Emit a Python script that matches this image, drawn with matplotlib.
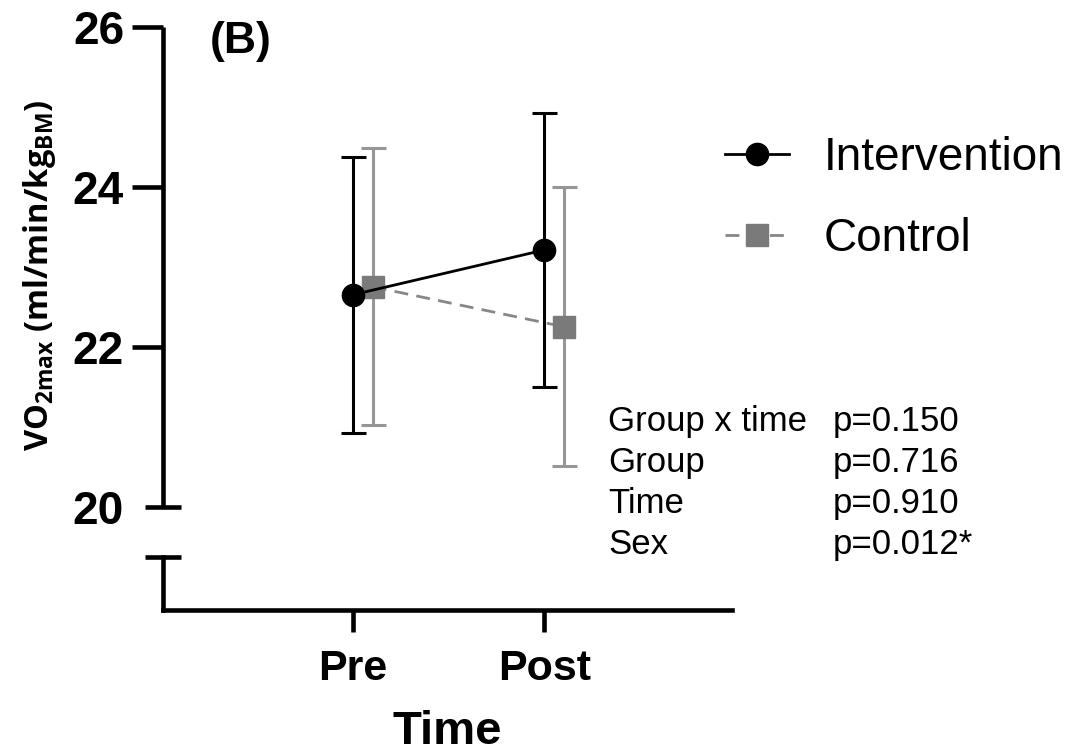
import matplotlib.pyplot as plt
import matplotlib.transforms as mtransforms

plt.rcParams['font.family'] = ['Liberation Sans', 'DejaVu Sans']

# group means and SD at each time point
time_labels = ['Pre', 'Post']
int_mean = [22.65, 23.21]
int_sd = [1.72, 1.71]
ctrl_mean = [22.75, 22.25]
ctrl_sd = [1.73, 1.74]

effects = ['Group x time', 'Group', 'Time', 'Sex']
p_values = ['p=0.150', 'p=0.716', 'p=0.910', 'p=0.012*']

x = [0, 1]
shift = 0.105
x_ctrl = [v + shift for v in x]

W, H = 1073, 754
fig = plt.figure(figsize=(W / 100, H / 100), dpi=100)
ax = fig.add_axes([163 / W, 1 - 610 / H, 569 / W, (610 - 26.5) / H])

ymin, ymax = 18.715, 26.0
brk = 19.377
ax.set_xlim(-0.99, 1.98)
ax.set_ylim(ymin, ymax)

grey = '#878787'
# control first so intervention sits on top
ax.errorbar(x_ctrl, ctrl_mean, yerr=ctrl_sd, fmt='none', ecolor='#969696',
            elinewidth=2.2, capsize=9, capthick=2.2, zorder=2)
ax.plot(x_ctrl, ctrl_mean, color=grey, ls=(0, (5, 3)), lw=2, marker='s',
        ms=16, mfc='#7a7a7a', mec='#7a7a7a', zorder=3, label='Control')
ax.errorbar(x, int_mean, yerr=int_sd, fmt='none', ecolor='black',
            elinewidth=2.2, capsize=9, capthick=2.2, zorder=4)
ax.plot(x, int_mean, color='black', lw=2, marker='o', ms=16,
        zorder=5, label='Intervention')

# axes with a break below 20
lw = 3.3
for s in ['top', 'right']:
    ax.spines[s].set_visible(False)
ax.spines['left'].set_linewidth(lw)
ax.spines['bottom'].set_linewidth(lw)
ax.spines['left'].set_bounds(20, 26)
ax.spines['left'].set_capstyle('butt')

tr = mtransforms.blended_transform_factory(ax.transAxes, ax.transData)
ax.plot([0, 0], [ymin, brk], transform=tr, color='black', lw=lw,
        clip_on=False, solid_capstyle='projecting')
for yb in [20, brk]:
    ax.plot([-0.031, 0.031], [yb, yb], transform=tr, color='black', lw=lw,
            clip_on=False, solid_capstyle='butt')

ax.set_yticks([20, 22, 24, 26])
ax.tick_params(axis='y', length=22, width=lw, pad=6, labelsize=33)
ax.yaxis.get_major_ticks()[0].tick1line.set_visible(False)
ax.set_xticks(x)
ax.set_xticklabels(time_labels)
ax.tick_params(axis='x', length=16, width=lw, pad=12, labelsize=31)
for lab in ax.get_xticklabels() + ax.get_yticklabels():
    lab.set_fontweight('bold')

ax.set_xlabel('Time', fontsize=34, fontweight='bold', labelpad=15)

fig.text(40 / W, 1 - 275 / H, r'VO$_\mathregular{2max}$ (ml/min/kg$_\mathregular{BM}$)',
         rotation=90, ha='center', va='center', fontsize=23.5,
         fontweight='bold', family=['Open Sans', 'DejaVu Sans'])

fig.text(210 / W, 1 - 53 / H, '(B)', fontsize=32, fontweight='bold',
         va='baseline')

handles, labels = ax.get_legend_handles_labels()
fig.legend(handles[::-1], labels[::-1], loc='upper left',
           bbox_to_anchor=(725 / W, 1 - 136 / H), frameon=False,
           fontsize=33, borderpad=0, borderaxespad=0, handlelength=1.4,
           handletextpad=0.75, labelspacing=0.8)

for i, (eff, pv) in enumerate(zip(effects, p_values)):
    yb = 1 - (431 + 41 * i) / H
    fig.text(608 / W, yb, eff, fontsize=25, va='baseline')
    fig.text(833 / W, yb, pv, fontsize=25, va='baseline')

fig.savefig('out.png', dpi=100)
